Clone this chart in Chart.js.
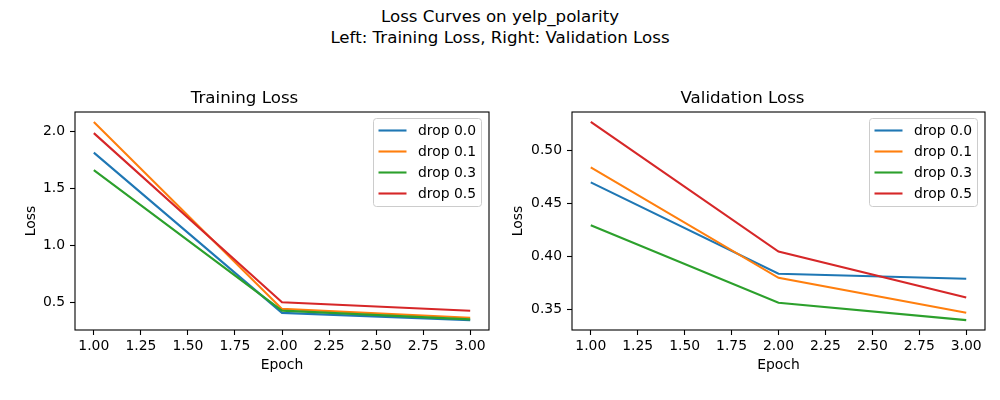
<!DOCTYPE html>
<html>
<head>
<meta charset="utf-8">
<script src="https://cdn.jsdelivr.net/npm/chart.js@4.4.1/dist/chart.umd.min.js"></script>
<style>
  html, body { margin:0; padding:0; background:#fff; }
  #wrap { position:relative; width:1000px; height:400px; overflow:hidden; font-family:"DejaVu Sans", sans-serif; }
  #sup { position:absolute; left:0; top:7px; width:1000px; text-align:center; font-size:16.67px; line-height:20.8px; color:#000; }
  .box { position:absolute; top:0; width:500px; height:400px; }
</style>
</head>
<body>
<div id="wrap">
  <div id="sup">Loss Curves on yelp_polarity<br>Left: Training Loss, Right: Validation Loss</div>
  <div class="box" style="left:0"><canvas id="c1"></canvas></div>
  <div class="box" style="left:500px"><canvas id="c2"></canvas></div>
</div>
<script>
const epochs = [1, 2, 3];
const seriesLabels = ["drop 0.0", "drop 0.1", "drop 0.3", "drop 0.5"];
const trainDrop00 = [1.813, 0.412, 0.349];
const trainDrop01 = [2.081, 0.447, 0.369];
const trainDrop03 = [1.660, 0.432, 0.355];
const trainDrop05 = [1.983, 0.505, 0.430];
const valDrop00 = [0.4702, 0.3839, 0.3792];
const valDrop01 = [0.4843, 0.3801, 0.3472];
const valDrop03 = [0.4297, 0.3566, 0.3402];
const valDrop05 = [0.5273, 0.4049, 0.3616];
const xTickValues = [1.00, 1.25, 1.50, 1.75, 2.00, 2.25, 2.50, 2.75, 3.00];
const trainYTicks = [0.5, 1.0, 1.5, 2.0];
const valYTicks = [0.35, 0.40, 0.45, 0.50];

const colors = ["#1f77b4", "#ff7f0e", "#2ca02c", "#d62728"];
const FONT = "DejaVu Sans";
Chart.defaults.color = "#000";
Chart.defaults.font.family = FONT;

function makeDatasets(arrs) {
  return arrs.map((a, i) => ({
    label: seriesLabels[i],
    data: epochs.map((e, j) => ({ x: e, y: a[j] })),
    borderColor: colors[i],
    backgroundColor: colors[i],
    borderWidth: 2.1,
    pointRadius: 0,
    tension: 0,
    fill: false,
    order: arrs.length - i
  }));
}

function range(arrs) {
  const all = arrs.flat();
  const mn = Math.min(...all), mx = Math.max(...all);
  const m = (mx - mn) * 0.05;
  return [mn - m, mx + m];
}

const frameLegend = {
  id: "frameLegend",
  afterDatasetsDraw(chart) {
    const { ctx, chartArea: a } = chart;
    ctx.save();
    ctx.strokeStyle = "#000";
    ctx.lineWidth = 1.1;
    ctx.strokeRect(a.left, a.top, a.right - a.left, a.bottom - a.top);
    // legend
    const w = 108, h = 88;
    const bx = a.right - 7.5 - w, by = a.top + 6.5;
    ctx.beginPath();
    if (ctx.roundRect) ctx.roundRect(bx, by, w, h, 3); else ctx.rect(bx, by, w, h);
    ctx.fillStyle = "rgba(255,255,255,0.8)";
    ctx.fill();
    ctx.strokeStyle = "#cccccc";
    ctx.lineWidth = 1;
    ctx.stroke();
    ctx.font = "13.9px '" + FONT + "'";
    ctx.textBaseline = "middle";
    ctx.textAlign = "left";
    chart.data.datasets.forEach((ds, i) => {
      const y = by + 12 + i * 21;
      ctx.strokeStyle = ds.borderColor;
      ctx.lineWidth = 2.1;
      ctx.beginPath();
      ctx.moveTo(bx + 5, y);
      ctx.lineTo(bx + 33, y);
      ctx.stroke();
      ctx.fillStyle = "#000";
      ctx.fillText(ds.label, bx + 44.5, y + 0.5);
    });
    ctx.restore();
  }
};

function makeChart(id, title, arrs, yTicks, yDec, yWidth, padRight, yTitlePad) {
  const [ymin, ymax] = range(arrs);
  return new Chart(document.getElementById(id), {
    type: "line",
    data: { datasets: makeDatasets(arrs) },
    options: {
      responsive: true,
      maintainAspectRatio: false,
      animation: false,
      layout: { padding: { left: 0, right: padRight, top: 0, bottom: 0 } },
      plugins: {
        legend: { display: false },
        tooltip: { enabled: false },
        title: {
          display: true, text: title, color: "#000",
          font: { family: FONT, size: 16.67, weight: "normal", lineHeight: 1.2 },
          padding: { top: 88.7, bottom: 3.3 }
        }
      },
      scales: {
        x: {
          type: "linear", min: 0.9, max: 3.1,
          afterBuildTicks: s => { s.ticks = xTickValues.map(v => ({ value: v })); },
          afterFit: s => { s.height = 70; },
          border: { display: false },
          grid: { drawOnChartArea: false, drawTicks: true, tickLength: 5, color: "#000", tickWidth: 1.1 },
          ticks: { color: "#000", padding: 3, maxRotation: 0, autoSkip: false,
                   font: { family: FONT, size: 13.9 }, callback: v => Number(v).toFixed(2) },
          title: { display: true, text: "Epoch", color: "#000",
                   font: { family: FONT, size: 13.9, lineHeight: 1.2 }, padding: { top: 0, bottom: 26.7 } }
        },
        y: {
          type: "linear", min: ymin, max: ymax,
          afterBuildTicks: s => { s.ticks = yTicks.map(v => ({ value: v })); },
          afterFit: s => { s.width = yWidth; },
          border: { display: false },
          grid: { drawOnChartArea: false, drawTicks: true, tickLength: 5, color: "#000", tickWidth: 1.1 },
          ticks: { color: "#000", padding: 5, autoSkip: false,
                   font: { family: FONT, size: 13.9 }, callback: v => Number(v).toFixed(yDec) },
          title: { display: true, text: "Loss", color: "#000",
                   font: { family: FONT, size: 13.9, lineHeight: 1.2 }, padding: { top: yTitlePad, bottom: 0 } }
        }
      }
    },
    plugins: [frameLegend]
  });
}

makeChart("c1", "Training Loss", [trainDrop00, trainDrop01, trainDrop03, trainDrop05], trainYTicks, 1, 75, 11, 23.4);
makeChart("c2", "Validation Loss", [valDrop00, valDrop01, valDrop03, valDrop05], valYTicks, 2, 72, 15, 10);
</script>
</body>
</html>
